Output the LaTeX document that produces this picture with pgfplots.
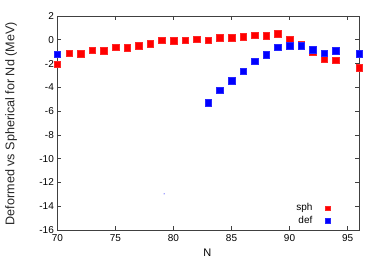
\documentclass[border=0pt]{standalone}
\usepackage{pgfplots}
\pgfplotsset{compat=1.18}
\usepackage{fontspec}
\setmainfont{Liberation Sans}
\begin{document}
\begin{tikzpicture}
\begin{axis}[
  at={(0,0)}, anchor=south west,
  scale only axis,
  width=301.8pt, height=214pt,
  xmin=70, xmax=96, ymin=-16, ymax=2,
  xtick={70,75,80,85,90,95},
  ytick={-16,-14,-12,-10,-8,-6,-4,-2,0,2},
  tick align=inside,
  major tick length=4pt,
  axis line style={black!75, line width=0.6pt},
  tick style={black!75, line width=0.6pt},
  /pgf/number format/assume math mode=true,
  tick label style={font=\fontsize{10}{12}\selectfont},
  xticklabel style={yshift=-1pt},
  xlabel={N},
  xlabel style={at={(axis description cs:0.497,-0.107)}, anchor=center, font=\fontsize{11}{12}\selectfont},
  ylabel={Deformed vs Spherical for Nd (MeV)},
  ylabel style={at={(axis description cs:-0.153,0.497)}, anchor=center, font=\fontsize{12.6}{14}\selectfont, text=black!85},
  legend plot pos=right,
  legend cell align=right,
  legend image post style={mark size=2.3pt},
  legend style={at={(axis cs:93.5,-13.6)}, anchor=north east, draw=none, fill=none,
    font=\fontsize{10}{11.3}\selectfont, row sep=0pt, column sep=11pt, inner sep=0pt},
  clip=false,
]
\addplot[only marks, mark=square*, mark size=3.3pt, color=red, mark options={draw=red!85!white, fill=red}]
coordinates {
(70,-2.06) (71,-1.14) (72,-1.17) (73,-0.88) (74,-0.94) (75,-0.63) (76,-0.66)
(77,-0.49) (78,-0.35) (79,-0.02) (80,-0.10) (81,-0.05) (82,0.04) (83,-0.02)
(84,0.18) (85,0.18) (86,0.24) (87,0.38) (88,0.35) (89,0.49) (90,0.04)
(91,-0.38) (92,-1.00) (93,-1.64) (94,-1.72) (96,-2.34)
};
\addlegendentry{sph}
\addplot[only marks, mark=square*, mark size=3.3pt, color=blue, mark options={draw=blue!85!white, fill=blue}]
coordinates {
(70,-1.22) (83,-5.28) (84,-4.25) (85,-3.46) (86,-2.65) (87,-1.81) (88,-1.25)
(89,-0.61) (90,-0.52) (91,-0.52) (92,-0.83) (93,-1.14) (94,-0.94) (96,-1.19)
};
\addlegendentry{def}
\addplot[only marks, mark=*, mark size=0.35pt, color=blue!60, forget plot]
coordinates {(79.2,-12.96)};
\end{axis}
\useasboundingbox (-57.4pt,-38pt) rectangle (324.6pt,230pt);
\end{tikzpicture}
\end{document}
